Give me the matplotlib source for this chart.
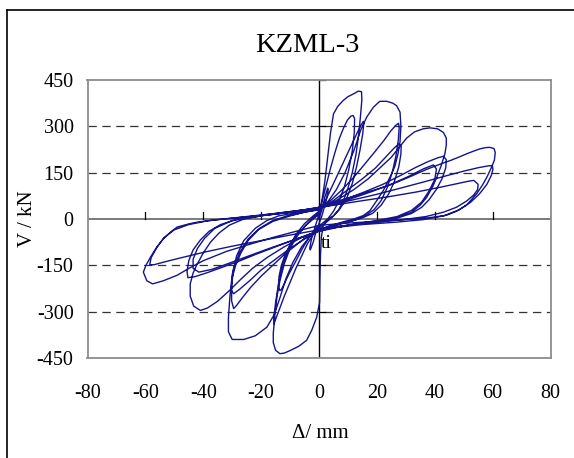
import matplotlib
matplotlib.use("Agg")
import matplotlib.pyplot as plt
from matplotlib.lines import Line2D
import numpy as np

plt.rcParams['font.family'] = ['Liberation Serif', 'DejaVu Serif']
plt.rcParams['axes.unicode_minus'] = False
plt.rcParams['lines.scale_dashes'] = False

title = "KZML-3"
x_label = "Δ/ mm"
y_label = "V / kN"
x_ticks = [-80, -60, -40, -20, 0, 20, 40, 60, 80]
y_ticks = [-450, -300, -150, 0, 150, 300, 450]
grid_levels = [-300, -150, 150, 300]

# cycle data (displacement mm, force kN)
d0 = [0, 1, 2, 3, 3.2, 2.5, 1, 0, -1, -2, -3, -3.2, -2.5, -1, 0]
f0 = [0, 30, 70, 100, 95, 60, 10, -15, -40, -75, -100, -95, -60, -15, 15]

d1 = [0, 1, 2.5, 4, 5.5, 7, 8.5, 9.8, 11, 11.8, 12.3, 12.2, 11.5, 10.3, 8.8, 7, 5, 3, 1, -1, -3.5, -6, -8.5, -10.5, -12, -13, -13.5, -14, -13.8, -13, -11.5, -9.5, -7, -4.5, -2, 0]
f1 = [15, 55, 110, 165, 215, 260, 295, 320, 333, 335, 325, 280, 220, 160, 105, 60, 25, 0, -15, -30, -60, -100, -145, -180, -210, -228, -232, -220, -185, -150, -110, -75, -45, -20, 0, 15]

d2 = [0, 1, 2, 3, 4, 5, 6.5, 8.4, 10, 11.9, 13.6, 14.7, 14.8, 14.4, 13.8, 12.8, 11.5, 10, 8.5, 6.8, 5, 3, 1.5, 0.8, 0.5, 0.3, 0.2, -0.8, -2.5, -4.3, -7, -10, -12, -13.5, -15, -15.8, -15.8, -15.2, -14.5, -13.5, -12, -10, -7.5, -5, -2.5, 0]
f2 = [15, 60, 120, 200, 280, 340, 365, 384, 396, 405, 414, 412, 385, 340, 280, 210, 150, 100, 60, 30, 10, 0, -20, -60, -120, -200, -270, -318, -360, -393, -412, -426, -434, -436, -425, -400, -370, -307, -250, -200, -145, -95, -55, -25, 0, 20]

d3 = [0, 2, 4, 6, 8, 10, 12, 13.5, 14.6, 15.3, 15.5, 15.1, 14.2, 13, 11.5, 9.5, 7, 4.5, 2, 0, -2, -4, -6, -8, -10, -12, -13.8, -15, -15.6, -15.6, -15, -14, -12.5, -10.5, -8, -5, -2, 0]
f3 = [20, 55, 95, 135, 175, 215, 255, 285, 305, 316, 310, 275, 225, 170, 115, 65, 30, 5, -15, -30, -50, -80, -120, -160, -205, -250, -295, -325, -340, -320, -270, -210, -150, -95, -50, -15, 10, 25]

d4 = [0, 3, 6, 9, 12, 14.5, 16.5, 18.8, 21, 23.4, 25.5, 26.8, 28, 28.3, 28, 27.3, 26.2, 24.5, 22.2, 20, 17.6, 15.3, 12, 8, 4, 0, -3, -6, -9, -11.5, -13.5, -15.5, -18, -22, -26, -30, -31.3, -31.3, -30.8, -30, -28.5, -26, -22, -18, -14, -8, -4, 0]
f4 = [25, 55, 95, 150, 220, 290, 330, 362, 381, 381, 375, 367, 346, 300, 250, 211, 170, 135, 92, 60, 27, 11, 0, -10, -22, -35, -55, -90, -140, -195, -255, -310, -350, -378, -390, -390, -365, -320, -253, -180, -120, -70, -30, -5, 10, 20, 25, 30]

d5 = [0, 4, 8, 12, 16, 19.5, 22.5, 24.8, 26.5, 27.5, 27.7, 27.4, 26.6, 25.3, 23.5, 21.5, 19, 16, 12, 7, 3, 0, -4, -8, -12, -16, -20, -23.5, -26.5, -28.5, -29.5, -30.2, -30.2, -29.5, -27.5, -24.5, -20.5, -16, -11, -5, 0]
f5 = [30, 60, 95, 135, 180, 220, 255, 285, 303, 310, 295, 255, 205, 150, 100, 60, 30, 10, -5, -15, -25, -35, -55, -85, -115, -150, -185, -220, -255, -280, -290, -265, -215, -160, -110, -65, -30, -5, 10, 22, 30]

d6 = [0, 5, 10, 15, 19.5, 23, 26, 27.6, 28.4, 28.3, 27.6, 26, 24, 21.5, 18.5, 14.5, 9, 4, 0, -5, -10, -15, -20, -24, -27.5, -29.5, -30.3, -30, -28.8, -27, -24.5, -21, -16, -10, -5, 0]
f6 = [30, 60, 95, 130, 165, 200, 230, 243, 235, 210, 170, 120, 80, 45, 18, 2, -12, -25, -38, -65, -95, -130, -165, -200, -228, -242, -230, -190, -150, -110, -70, -35, -8, 10, 22, 32]

d7 = [0, 6, 12, 17, 21, 25, 28, 30.3, 33, 36, 38.4, 41, 43, 44, 44, 43.5, 42.3, 40.7, 39.3, 37.2, 35, 32, 27, 20, 12, 5, 0, -6, -12, -18, -23, -27, -31, -35, -38.5, -41, -43.3, -44.5, -44.5, -43.5, -42.3, -40, -37.5, -34.5, -31, -26, -19, -10, 0]
f7 = [32, 60, 95, 130, 165, 200, 235, 262, 282, 292, 295, 292, 280, 262, 240, 211, 175, 135, 105, 70, 45, 22, 5, -8, -18, -28, -38, -60, -90, -125, -160, -195, -232, -266, -288, -296, -282, -250, -210, -175, -150, -110, -75, -45, -20, 0, 12, 22, 35]

d8 = [0, 8, 15, 22, 28, 33, 37.5, 41, 43, 44, 43.8, 42.5, 40.5, 38, 35.5, 32, 27, 20, 12, 5, 0, -8, -15, -22, -28, -34, -39, -43, -45.3, -45.6, -45, -43.5, -41, -38, -34, -28, -20, -10, 0]
f8 = [35, 60, 85, 112, 140, 165, 185, 198, 203, 192, 165, 130, 95, 62, 38, 18, 3, -8, -18, -28, -38, -65, -90, -115, -138, -158, -175, -187, -190, -170, -135, -100, -68, -40, -18, 0, 12, 24, 35]

d9 = [0, 10, 18, 25, 31, 36, 39.5, 40.6, 40, 38, 35.5, 32, 27, 20, 10, 0, -10, -18, -25, -31, -37, -41.5, -43.5, -43.5, -42, -39.5, -36, -30, -20, -10, 0]
f9 = [35, 62, 88, 113, 138, 162, 175, 162, 128, 90, 55, 28, 8, -5, -20, -40, -72, -98, -122, -143, -163, -172, -160, -130, -95, -62, -30, -5, 10, 22, 38]

d10 = [0, 8, 16, 24, 31, 37, 42, 45.3, 48.5, 51, 53.5, 55.6, 57.5, 59, 60.5, 60.9, 60.6, 59.5, 58, 56.5, 54.5, 51, 47.5, 44, 38, 32.6, 24, 15.2, 7, 0, -8, -16, -24, -32, -40, -45, -49, -53.8, -57.5, -59.5, -60.7, -59.8, -58, -56, -53.8, -51, -49, -45, -42, -35, -26, -15, -5, 0]
f10 = [40, 62, 85, 108, 135, 160, 178, 189, 201, 211, 220, 227, 231, 232, 228, 215, 190, 165, 135, 110, 82, 45, 25, 12, 4, 0, -5, -10, -15, -21, -40, -60, -82, -105, -135, -160, -182, -200, -210, -200, -172, -150, -120, -90, -64, -40, -26, -16, -10, -2, 6, 16, 28, 35]

d11 = [0, 10, 20, 29, 37, 44, 50, 55, 58.5, 59.9, 60.1, 59.5, 58, 55.5, 52.5, 48.5, 43, 36, 27, 15, 5, 0, -10, -20, -30, -39, -47, -53, -57, -58.5, -58, -56, -53.5, -50, -45, -38, -28, -15, -5, 0]
f11 = [35, 58, 80, 102, 122, 140, 155, 166, 172, 173, 160, 140, 112, 82, 55, 30, 10, -2, -10, -18, -28, -35, -52, -70, -88, -106, -124, -138, -148, -148, -125, -92, -60, -35, -18, -5, 5, 18, 30, 37]

d12 = [0, 12, 24, 34, 42, 48, 51.5, 53.5, 55, 54.8, 53.5, 51, 47.5, 43, 37, 29, 18, 8, 0]
f12 = [37, 55, 72, 88, 103, 115, 122, 125, 112, 95, 78, 58, 38, 22, 8, -2, -12, -22, -30]

disp_cycles = [d0, d1, d2, d3, d4, d5, d6, d7, d8, d9, d10, d11, d12]
force_cycles = [f0, f1, f2, f3, f4, f5, f6, f7, f8, f9, f10, f11, f12]

W, H = 574, 458
fig = plt.figure(figsize=(W / 100, H / 100), dpi=100)
L, R, T, B = 87.5, 550.5, 80, 358
ax = fig.add_axes([L / W, 1 - B / H, (R - L) / W, (B - T) / H])
ax.set_xlim(-80, 80)
ax.set_ylim(-450, 450)

for s in ax.spines.values():
    s.set_color('#8c8c8c')
    s.set_linewidth(1.3)

ax.set_xticks(x_ticks)
ax.set_xticklabels([str(v) for v in x_ticks])
ax.set_yticks(y_ticks)
ax.set_yticklabels([str(v) for v in y_ticks])
ax.tick_params(axis='x', length=0, pad=19, labelsize=14.5)
ax.tick_params(axis='y', length=0, pad=10, labelsize=14.5)

# grid
for g in grid_levels:
    ax.axhline(g, color='#333333', lw=0.9, ls=(0, (6, 4)), zorder=1)
# axes through origin
ax.axhline(0, color='#7a7a7a', lw=1.4, zorder=2)
ax.axvline(0, color='black', lw=1.0, zorder=2)

# inner tick marks
px_x = 160 / (R - L)
px_y = 900 / (B - T)
for xv in x_ticks[1:-1]:
    ax.plot([xv, xv], [0, 7 * px_y], color='black', lw=0.9, zorder=2)
for yv in y_ticks:
    if yv != 0:
        ax.plot([0, 6 * px_x], [yv, yv], color='black', lw=0.9, zorder=2)

disp = np.concatenate([np.asarray(d, float) for d in disp_cycles])
force = np.concatenate([np.asarray(f, float) for f in force_cycles])
ax.plot(disp, force, color='#14148c', lw=1.0, zorder=3)

ax.text(0.6, -95, "ti", fontsize=14, ha='left', va='baseline', zorder=4)

fig.text(307 / W, 1 - 45.5 / H, title, fontsize=20.5, ha='center', va='center')
fig.text(27 / W, 1 - 219 / H, y_label, fontsize=15, rotation=90, ha='center', va='center')
fig.text(320 / W, 1 - 433.5 / H, x_label, fontsize=15, ha='center', va='center')

# outer frame (left and top edges visible)
fig.add_artist(Line2D([7.3 / W, 7.3 / W], [0, 1 - 9.5 / H], color='black', lw=1.2, transform=fig.transFigure))
fig.add_artist(Line2D([7.3 / W, 1], [1 - 9.5 / H, 1 - 9.5 / H], color='black', lw=1.2, transform=fig.transFigure))

fig.savefig("out.png", dpi=100)
